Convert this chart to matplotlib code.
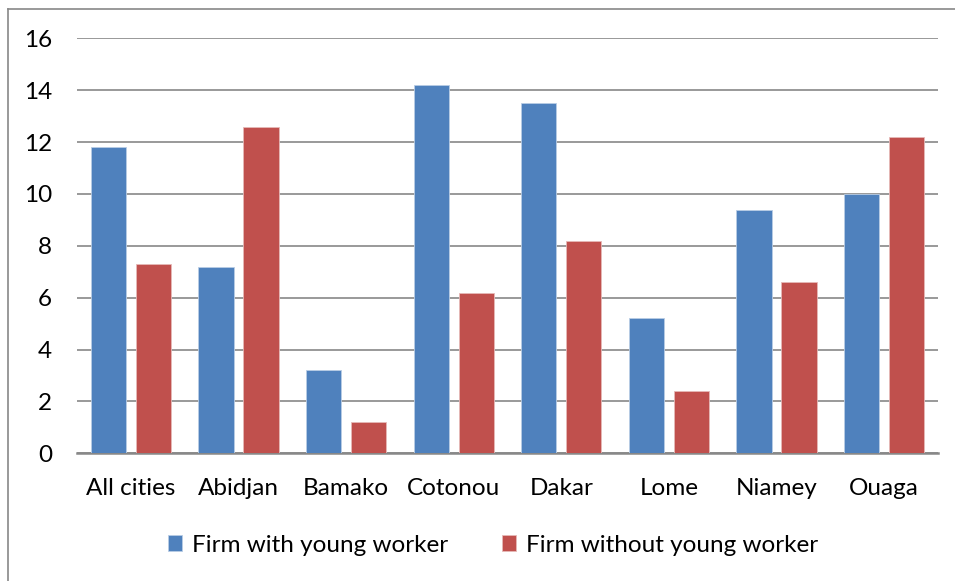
import numpy as np
import matplotlib.pyplot as plt
from matplotlib.lines import Line2D

cities = ["All cities", "Abidjan", "Bamako", "Cotonou", "Dakar", "Lome", "Niamey", "Ouaga"]
with_young = [11.8, 7.2, 3.2, 14.2, 13.5, 5.2, 9.4, 10.0]
without_young = [7.3, 12.6, 1.2, 6.2, 8.2, 2.4, 6.6, 12.2]

plt.rcParams['font.family'] = ['Lato', 'DejaVu Sans']

fig = plt.figure(figsize=(9.55, 5.81), dpi=100)
ax = fig.add_axes([0.0806, 0.2198, 0.9016, 0.7142])

x = np.arange(len(cities))
w = 0.328
off = 0.209
ax.bar(x - off, with_young, w, color="#4F81BD", edgecolor="#B9CDE5", linewidth=0.6,
       label="Firm with young worker", zorder=3)
ax.bar(x + off, without_young, w, color="#C0504D", edgecolor="#E6B9B8", linewidth=0.6,
       label="Firm without young worker", zorder=3)

ax.set_xlim(-0.5, len(cities) - 0.5)
ax.set_ylim(0, 16)
ax.set_yticks(range(0, 17, 2))
ax.set_xticks(x)
ax.set_xticklabels(cities)
ax.tick_params(axis="both", length=0, labelsize=17.5, colors="black")
ax.tick_params(axis="y", pad=18)
ax.tick_params(axis="x", pad=18)
ax.grid(axis="y", color="#888888", linewidth=1.2, zorder=0)

for s in ["top", "right", "left"]:
    ax.spines[s].set_visible(False)
ax.spines["bottom"].set_color("#888888")
ax.spines["bottom"].set_linewidth(1.8)

fig.legend(loc="center", bbox_to_anchor=(0.516, 1 - 545 / 581), ncol=2, frameon=False,
           fontsize=17.5, handlelength=0.6, handleheight=0.6, handletextpad=0.4,
           columnspacing=2.2)

# outer chart border (top and left edges visible)
fig.add_artist(Line2D([8 / 955, 1], [1 - 9 / 581, 1 - 9 / 581], transform=fig.transFigure,
                      color="#888888", linewidth=1.2))
fig.add_artist(Line2D([8 / 955, 8 / 955], [0, 1 - 9 / 581], transform=fig.transFigure,
                      color="#888888", linewidth=1.2))

fig.savefig("out.png", dpi=100)
